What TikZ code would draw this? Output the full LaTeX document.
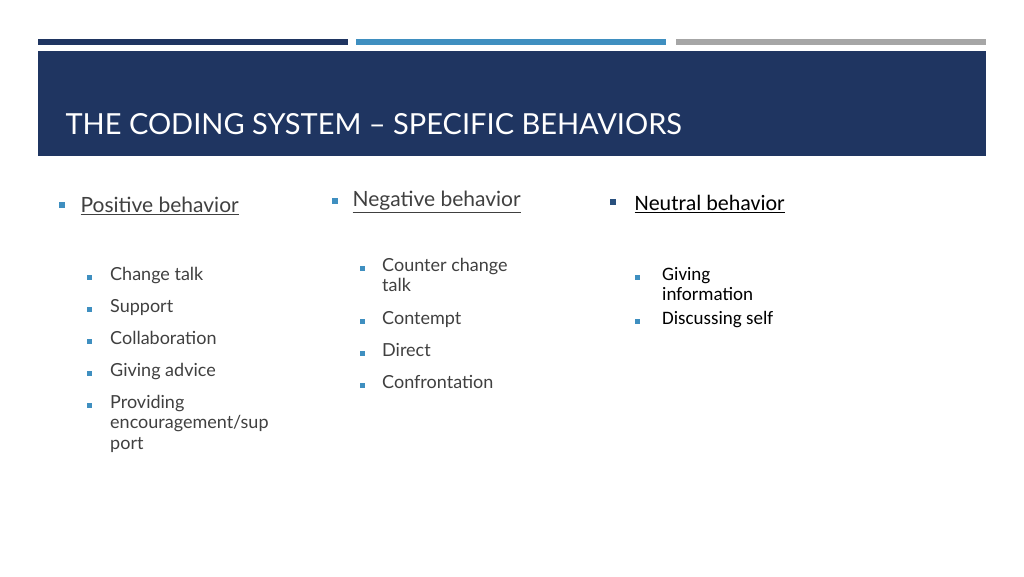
\documentclass[tikz,border=0pt]{standalone}
\usepackage{fontspec}
\setmainfont{Lato}
\newfontfamily\carl{Carlito}
\definecolor{navy}{HTML}{1F3561}
\definecolor{bblue}{HTML}{3F8FC0}
\definecolor{bgray}{HTML}{A6A6A6}
\definecolor{txt}{HTML}{404040}
\begin{document}
\begin{tikzpicture}[x=1pt,y=-1pt,
 hd/.style={anchor=west,font=\fontsize{21}{24}\selectfont,text=txt},
 it/.style={anchor=north west,font=\fontsize{18}{20.5}\selectfont,text=txt,align=left,inner sep=0},
 bul/.style={fill=bblue,minimum size=6pt,inner sep=0}]
\useasboundingbox (0,0) rectangle (1024,576);
\fill[white] (0,0) rectangle (1024,576);
\fill[navy] (38,39) rectangle (348,45);
\fill[bblue] (356,39) rectangle (666,45);
\fill[bgray] (676,39) rectangle (986,45);
\fill[navy] (38,51) rectangle (986,156);
\node[anchor=west,text=white,font=\fontsize{29}{32}\selectfont] (title) at (62,124) {THE CODING SYSTEM – SPECIFIC BEHAVIORS};
% positive
\node[bul] (b1) at (62,205) {};
\node[hd] (h1) at (77,206) {\underline{Positive behavior}};
\foreach \t/\y [count=\i] in {Change talk/267,Support/299,Collaboration/331,Giving advice/363,{Providing\\encouragement/sup\\port}/395}{
 \node[bul,minimum size=5pt] (p\i) at (89,\y+10) {};
 \node[it] (pt\i) at (110,\y) {\t};}
% negative
\node[bul] (b2) at (335,201) {};
\node[hd] (h2) at (349,202) {\underline{Negative behavior}};
\foreach \t/\y [count=\i] in {{Counter change\\talk}/258,Contempt/311,Direct/343,Confrontation/375}{
 \node[bul,minimum size=5pt] (n\i) at (362,\y+10) {};
 \node[it] (nt\i) at (382,\y) {\t};}
% neutral
\node[bul,fill=navy!70!bblue] (b3) at (613,202) {};
\node[hd,text=black,font=\carl\fontsize{22}{24}\selectfont] (h3) at (631,204) {\underline{Neutral behavior}};
\foreach \t/\y [count=\i] in {{Giving\\information}/267,Discussing self/311}{
 \node[bul,minimum size=5pt] (u\i) at (637,\y+10) {};
 \node[it,text=black,font=\carl\fontsize{19}{20.5}\selectfont] (ut\i) at (662,\y) {\t};}
\end{tikzpicture}
\end{document}
